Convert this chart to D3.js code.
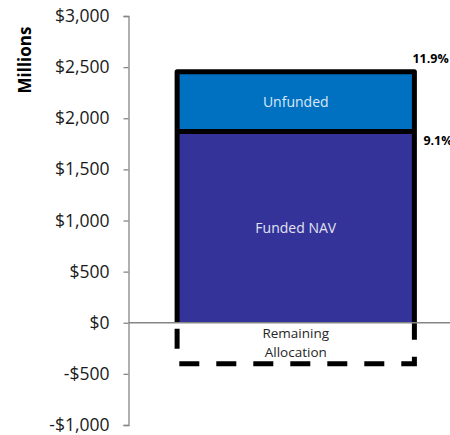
<!DOCTYPE html>
<html>
<head>
<meta charset="utf-8">
<script src="https://cdn.jsdelivr.net/npm/d3@7"></script>
<style>
  html, body { margin: 0; padding: 0; background: #fff; }
  svg { display: block; }
  text { font-family: "Open Sans", "Noto Sans", sans-serif; }
</style>
</head>
<body>
<div id="chart"></div>
<script>
// Stacked commitment bar, in $ millions
const categories = ["Portfolio"];
const fundedNAV = [1870];
const unfunded = [585];
const remainingAllocation = [-400];
const segmentLabels = ["Funded NAV", "Unfunded"];
const remainingLabel = ["Remaining", "Allocation"];
const pctLabels = ["9.1%", "11.9%"];
const yTicks = [-1000, -500, 0, 500, 1000, 1500, 2000, 2500, 3000];
const axisTitle = "Millions";

const width = 450, height = 435;
const svg = d3.select("#chart").append("svg")
  .attr("width", width).attr("height", height);

const y = d3.scaleLinear().domain([-1000, 3000]).range([425, 16]);
const x = d3.scaleBand().domain(categories).range([128.5, 463]).padding(0.17);

const axisColor = "#868686";
const fmt = v => (v < 0 ? "-$" : "$") + d3.format(",")(Math.abs(v));

// Y axis
const yAxis = svg.append("g")
  .attr("transform", "translate(128.5,0)")
  .call(d3.axisLeft(y).tickValues(yTicks).tickFormat(fmt).tickSizeInner(5).tickSizeOuter(5).tickPadding(14));
yAxis.select(".domain").attr("stroke", axisColor).attr("stroke-width", 1.3);
yAxis.selectAll(".tick line").attr("stroke", axisColor).attr("stroke-width", 1.3);
yAxis.selectAll(".tick text")
  .attr("fill", "#1a1a1a")
  .style("font-size", "17.5px")
  .style("font-family", "'Open Sans', sans-serif");

// Axis title
svg.append("text")
  .attr("transform", `translate(31,${(25 + 95) / 2}) rotate(-90)`)
  .attr("text-anchor", "middle")
  .style("font-size", "17px")
  .style("font-weight", "bold")
  .attr("fill", "#000")
  .text(axisTitle);

const cat = categories[0];
const x0 = x(cat), x1 = x(cat) + x.bandwidth(), xc = x0 + x.bandwidth() / 2;
const funded = fundedNAV[0];
const total = funded + unfunded[0];
const rem = remainingAllocation[0];

// Segment fills
svg.append("rect")
  .attr("x", x0).attr("y", y(funded))
  .attr("width", x1 - x0).attr("height", y(0) - y(funded))
  .attr("fill", "#333399");
svg.append("rect")
  .attr("x", x0).attr("y", y(total))
  .attr("width", x1 - x0).attr("height", y(funded) - y(total))
  .attr("fill", "#0070C0");

// Remaining allocation outline (dashed)
svg.append("path")
  .attr("d", `M${x1},${y(0)}V${y(rem)}H${x0}V${y(0)}`)
  .attr("fill", "none")
  .attr("stroke", "#000")
  .attr("stroke-width", 5)
  .attr("stroke-dasharray", "20,17")
  .attr("stroke-dashoffset", 3);

// Bar outline and divider
svg.append("path")
  .attr("d", `M${x0},${y(0)}V${y(total)}H${x1}V${y(0)}`)
  .attr("fill", "none")
  .attr("stroke", "#000")
  .attr("stroke-width", 5)
  .attr("stroke-linejoin", "round");
svg.append("line")
  .attr("x1", x0).attr("x2", x1)
  .attr("y1", y(funded)).attr("y2", y(funded))
  .attr("stroke", "#000").attr("stroke-width", 5);

// Zero line
svg.append("line")
  .attr("x1", 128.5).attr("x2", width)
  .attr("y1", y(0)).attr("y2", y(0))
  .attr("stroke", axisColor).attr("stroke-width", 1.5);

// Segment labels
svg.append("text")
  .attr("x", xc).attr("y", y(funded / 2))
  .attr("text-anchor", "middle").attr("dominant-baseline", "central")
  .style("font-size", "14px").attr("fill", "#e2e2f2")
  .text(segmentLabels[0]);
svg.append("text")
  .attr("x", xc).attr("y", y((funded + total) / 2))
  .attr("text-anchor", "middle").attr("dominant-baseline", "central")
  .style("font-size", "14px").attr("fill", "#dce9f6")
  .text(segmentLabels[1]);

// Remaining allocation label
svg.append("text")
  .attr("x", xc).attr("y", y(0) + 10)
  .attr("text-anchor", "middle").attr("dominant-baseline", "central")
  .style("font-size", "13.5px").attr("fill", "#262626")
  .text(remainingLabel[0]);
svg.append("text")
  .attr("x", xc).attr("y", y(0) + 29)
  .attr("text-anchor", "middle").attr("dominant-baseline", "central")
  .style("font-size", "13.5px").attr("fill", "#262626")
  .text(remainingLabel[1]);

// Percentage labels
svg.append("text")
  .attr("x", x1 + 9).attr("y", y(funded) + 9)
  .attr("dominant-baseline", "central")
  .style("font-size", "12.5px").style("font-weight", "bold").attr("fill", "#000")
  .text(pctLabels[0]);
svg.append("text")
  .attr("x", x1 - 2).attr("y", y(total) - 13)
  .attr("dominant-baseline", "central")
  .style("font-size", "12.5px").style("font-weight", "bold").attr("fill", "#000")
  .text(pctLabels[1]);
</script>
</body>
</html>
